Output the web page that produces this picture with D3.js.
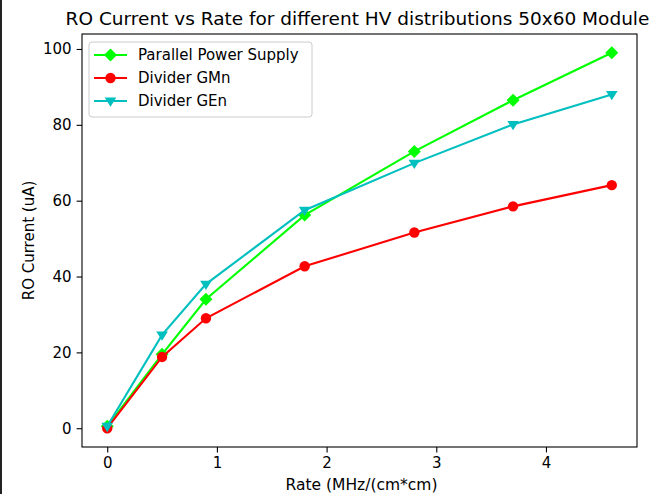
<!DOCTYPE html>
<html>
<head>
<meta charset="utf-8">
<script src="https://cdn.jsdelivr.net/npm/d3@7"></script>
<style>
  body { margin: 0; background: #fff; }
  svg { display: block; font-family: "DejaVu Sans", sans-serif; }
</style>
</head>
<body>
<div id="chart"></div>
<script>
// data
var rates = [0, 0.5, 0.9, 1.8, 2.8, 3.7, 4.6];
var parallelSupply = [0.5, 19.5, 34, 56.2, 73, 86.5, 99];
var dividerGMn = [0, 18.8, 29, 42.7, 51.6, 58.5, 64.1];
var dividerGEn = [0.5, 24.6, 38, 57.5, 69.9, 80.1, 88];
var xTicks = [0, 1, 2, 3, 4];
var yTicks = [0, 20, 40, 60, 80, 100];

var series = [
    { name: "Parallel Power Supply", values: parallelSupply, color: "#00ff00", marker: "diamond" },
    { name: "Divider GMn", values: dividerGMn, color: "#ff0000", marker: "circle" },
    { name: "Divider GEn", values: dividerGEn, color: "#00bfbf", marker: "tri" }
];

var W = 654, H = 494;
var margin = { top: 34, right: 17, bottom: 47, left: 82 },
    width = W - margin.left - margin.right,
    height = H - margin.top - margin.bottom;

var fs = "15px";

var svg = d3.select("#chart")
    .append("svg")
    .attr("width", W)
    .attr("height", H);

// screenshot edge on the left
svg.append("rect")
    .attr("x", 0).attr("y", 0)
    .attr("width", 2).attr("height", H)
    .attr("fill", "#222");

var chart = svg.append("g")
    .attr("transform", "translate(" + margin.left + "," + margin.top + ")");

var xScale = d3.scaleLinear()
    .domain([-0.23, 4.83])
    .range([0, width]);

var yScale = d3.scaleLinear()
    .domain([-4.95, 103.95])
    .range([height, 0]);

// x-axis
var xAxis = chart.append("g")
    .attr("class", "x axis")
    .attr("transform", "translate(0," + height + ")")
    .call(d3.axisBottom(xScale).tickValues(xTicks).tickSize(5.4).tickPadding(5).tickFormat(d3.format("d")));

// y-axis
var yAxis = chart.append("g")
    .attr("class", "y axis")
    .call(d3.axisLeft(yScale).tickValues(yTicks).tickSize(5.4).tickPadding(5).tickFormat(d3.format("d")));

[xAxis, yAxis].forEach(function (ax) {
    ax.select(".domain").remove();
    ax.selectAll("line").attr("stroke", "#000").attr("stroke-width", 1.1);
    ax.selectAll("text").attr("font-size", fs).attr("fill", "#000")
        .attr("font-family", "DejaVu Sans");
});

// frame
chart.append("rect")
    .attr("x", 0).attr("y", 0)
    .attr("width", width).attr("height", height)
    .attr("fill", "none")
    .attr("stroke", "#000")
    .attr("stroke-width", 1.1);

var line = d3.line()
    .x(function (d, i) { return xScale(rates[i]); })
    .y(function (d) { return yScale(d); });

function drawMarker(g, type, color, x, y) {
    if (type === "circle") {
        g.append("circle").attr("cx", x).attr("cy", y).attr("r", 5.2).attr("fill", color);
    } else if (type === "diamond") {
        var s = 6.5;
        g.append("path")
            .attr("d", "M" + x + "," + (y - s) + "L" + (x + s) + "," + y + "L" + x + "," + (y + s) + "L" + (x - s) + "," + y + "Z")
            .attr("fill", color);
    } else {
        var r = 5.8;
        g.append("path")
            .attr("d", "M" + (x - r) + "," + (y - r * 0.6) + "L" + (x + r) + "," + (y - r * 0.6) + "L" + x + "," + (y + r) + "Z")
            .attr("fill", color);
    }
}

series.forEach(function (s) {
    var g = chart.append("g");
    g.append("path")
        .datum(s.values)
        .attr("d", line)
        .attr("fill", "none")
        .attr("stroke", s.color)
        .attr("stroke-width", 2.1);
    s.values.forEach(function (v, i) {
        drawMarker(g, s.marker, s.color, xScale(rates[i]), yScale(v));
    });
});

// title and labels
svg.append("text")
    .attr("x", margin.left + width / 2 - 2)
    .attr("y", 25)
    .attr("text-anchor", "middle")
    .attr("font-size", "18.5px")
    .text("RO Current vs Rate for different HV distributions 50x60 Module");

svg.append("text")
    .attr("x", margin.left + width / 2 + 2)
    .attr("y", 490)
    .attr("text-anchor", "middle")
    .attr("font-size", "15.5px")
    .text("Rate (MHz/(cm*cm)");

svg.append("text")
    .attr("transform", "translate(34," + (margin.top + height / 2) + ") rotate(-90)")
    .attr("text-anchor", "middle")
    .attr("font-size", fs)
    .text("RO Current (uA)");

// legend
var legend = chart.append("g").attr("transform", "translate(7,8)");
legend.append("rect")
    .attr("x", 0).attr("y", 0)
    .attr("width", 223).attr("height", 75)
    .attr("rx", 3)
    .attr("fill", "#fff")
    .attr("fill-opacity", 0.8)
    .attr("stroke", "#ccc");

series.forEach(function (s, i) {
    var y = 13 + i * 23;
    legend.append("line")
        .attr("x1", 5).attr("x2", 38)
        .attr("y1", y).attr("y2", y)
        .attr("stroke", s.color).attr("stroke-width", 2.1);
    drawMarker(legend, s.marker, s.color, 21.5, y);
    legend.append("text")
        .attr("x", 49).attr("y", y + 5)
        .attr("font-size", fs)
        .text(s.name);
});
</script>
</body>
</html>
